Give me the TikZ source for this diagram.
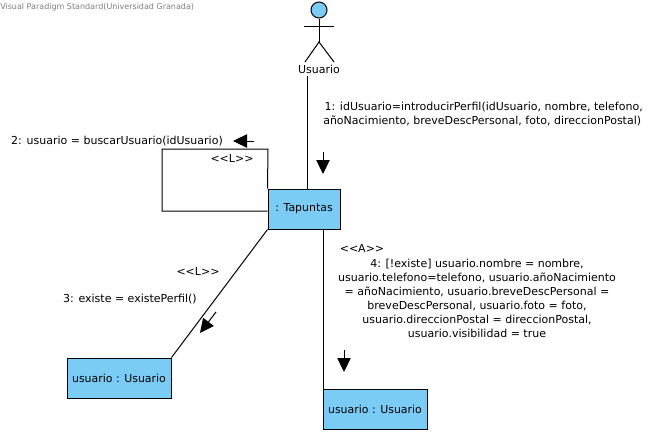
\documentclass[tikz,border=0pt]{standalone}
\usepackage{fontspec}
\setmainfont{DejaVu Sans}
\usetikzlibrary{arrows.meta}
\definecolor{boxblue}{HTML}{7ACCF5}
\tikzset{
objbox/.style={rectangle,draw,fill=boxblue,inner sep=0pt,line width=0.75pt,minimum height=30pt,font=\fontsize{8.2}{10.5}\selectfont},
msg/.style={inner sep=0pt,font=\fontsize{8.25}{10.5}\selectfont,align=center},
link/.style={draw,line width=0.75pt},
flow/.style={draw,line width=0.75pt,-{Triangle[length=10.5pt,width=10pt]}}
}
\begin{document}
\begin{tikzpicture}[x=0.75pt,y=-0.75pt]
\useasboundingbox (0,0) rectangle (657,433);
\node[inner sep=0pt,anchor=west,text=gray,font=\fontsize{6}{7}\selectfont] (mark) at (0,7) {Visual Paradigm Standard(Universidad Granada)};
\node[circle,draw,fill=boxblue,line width=0.75pt,minimum size=12pt,inner sep=0pt] (head) at (319,10) {};
\coordinate (hip) at (319,42);
\coordinate (armL) at (304,26);
\coordinate (armR) at (334,26);
\coordinate (footL) at (305,62);
\coordinate (footR) at (334,62);
\path[link](head) -- (hip);
\path[link](armL) -- (armR);
\path[link](footL) -- (hip) -- (footR);
\node[msg] (actor) at (319,69) {Usuario};
\node[objbox,minimum width=54pt] (tapuntas) at (304,209) {: Tapuntas};
\node[objbox,minimum width=78pt] (usuario1) at (119,378) {usuario : Usuario};
\node[objbox,minimum width=78pt] (usuario2) at (375,409) {usuario : Usuario};
\coordinate (c1) at (307,76);
\coordinate (loop1) at (268,149);
\coordinate (loop2) at (162,149);
\coordinate (loop3) at (162,211);
\coordinate (c2) at (323,229);
\path[link](c1) -- (c1 |- tapuntas.north);
\path[link](tapuntas.north west) -- (loop1) -- (loop2) -- (loop3) -- (loop3 -| tapuntas.west);
\path[link](tapuntas.south west) -- (usuario1.north east);
\path[link](c2) -- (c2 |- usuario2.north);
\coordinate (a1) at (323,152);
\coordinate (b1) at (323,174);
\coordinate (a2) at (254,141);
\coordinate (b2) at (233,141);
\coordinate (a3) at (216,312);
\coordinate (b3) at (200,333);
\coordinate (a4) at (344,350);
\coordinate (b4) at (344,372);
\path[flow](a1) -- (b1);
\path[flow](a2) -- (b2);
\path[flow](a3) -- (b3);
\path[flow](a4) -- (b4);
\node[msg,anchor=north west,align=left] (m1) at (323,102) {\hspace{1pt}1: idUsuario=introducirPerfil(idUsuario, nombre, telefono,\\añoNacimiento, breveDescPersonal, foto, direccionPostal)};
\node[msg] (m2) at (117,141) {2: usuario = buscarUsuario(idUsuario)};
\node[msg] (l2) at (232,158) {<{}<L>{}>};
\node[msg] (l3) at (198,271) {<{}<L>{}>};
\node[msg] (m3) at (130,299) {3: existe = existePerfil()};
\node[msg] (l4) at (362,248) {<{}<A>{}>};
\node[msg] (m4) at (477,298) {4: [!existe] usuario.nombre = nombre,\\usuario.telefono=telefono, usuario.añoNacimiento\\= añoNacimiento, usuario.breveDescPersonal =\\breveDescPersonal, usuario.foto = foto,\\usuario.direccionPostal = direccionPostal,\\usuario.visibilidad = true};
\end{tikzpicture}
\end{document}
